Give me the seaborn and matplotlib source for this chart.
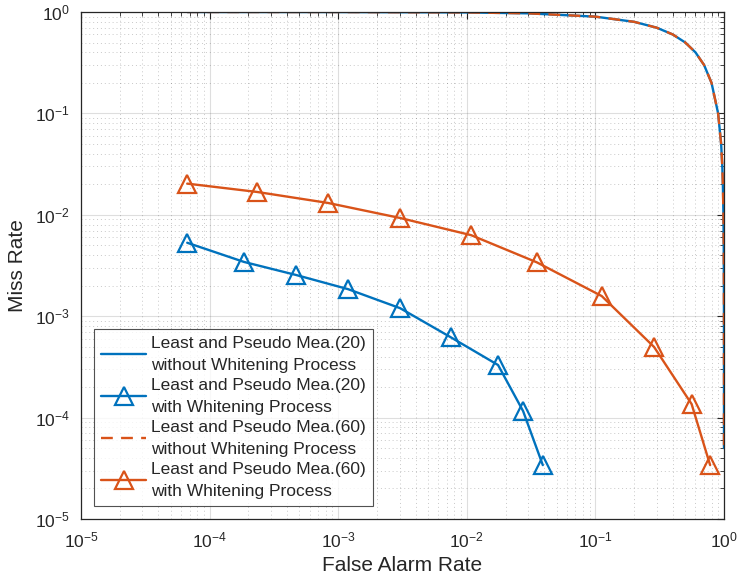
import numpy as np
import pandas as pd
import matplotlib
matplotlib.use("Agg")
import matplotlib.pyplot as plt
import seaborn as sns

# ROC-type curves (false alarm rate vs. miss rate)
fa_plain_20 = [6.7e-5, 1e-4, 1e-3, 1e-2, 3e-2, 0.1, 0.2, 0.3, 0.4, 0.5, 0.6, 0.7, 0.8,
               0.9, 0.95, 0.97, 0.98, 0.99, 0.995, 0.998, 0.999, 0.9995, 0.9998, 0.9999, 0.99995]
miss_plain_20 = [0.99993, 0.9999, 0.999, 0.99, 0.97, 0.9, 0.8, 0.7, 0.6, 0.5, 0.4, 0.3, 0.2,
                 0.1, 0.05, 0.03, 0.02, 0.01, 5e-3, 2e-3, 1e-3, 5e-4, 2e-4, 1e-4, 5e-5]

fa_white_20 = [6.7e-5, 1.85e-4, 4.7e-4, 1.19e-3, 3.03e-3, 7.5e-3, 1.75e-2, 2.74e-2, 3.9e-2]
miss_white_20 = [5.3e-3, 3.43e-3, 2.55e-3, 1.85e-3, 1.2e-3, 6.2e-4, 3.3e-4, 1.16e-4, 3.4e-5]

fa_plain_60 = [6.7e-5, 1e-4, 1e-3, 1e-2, 3e-2, 0.1, 0.2, 0.3, 0.4, 0.5, 0.6, 0.7, 0.8,
               0.9, 0.95, 0.97, 0.98, 0.99, 0.995, 0.998, 0.999, 0.9995, 0.9998, 0.9999, 0.99995]
miss_plain_60 = [0.99993, 0.9999, 0.999, 0.99, 0.97, 0.9, 0.8, 0.7, 0.6, 0.5, 0.4, 0.3, 0.2,
                 0.1, 0.05, 0.03, 0.02, 0.01, 5e-3, 2e-3, 1e-3, 5e-4, 2e-4, 1e-4, 5e-5]

fa_white_60 = [6.7e-5, 2.34e-4, 8.3e-4, 3.03e-3, 1.08e-2, 3.5e-2, 0.112, 0.286, 0.56, 0.78]
miss_white_60 = [2.03e-2, 1.68e-2, 1.31e-2, 9.3e-3, 6.3e-3, 3.4e-3, 1.58e-3, 4.97e-4, 1.36e-4, 3.4e-5]

labels = [
    "Least and Pseudo Mea.(20)\nwithout Whitening Process",
    "Least and Pseudo Mea.(20)\nwith Whitening Process",
    "Least and Pseudo Mea.(60)\nwithout Whitening Process",
    "Least and Pseudo Mea.(60)\nwith Whitening Process",
]

BLUE = "#0072BD"
ORANGE = "#D95319"
DARK = "#262626"

sns.set_style("white")
plt.rcParams["font.family"] = ["Liberation Sans", "DejaVu Sans"]
plt.rcParams["mathtext.fontset"] = "custom"
plt.rcParams["mathtext.rm"] = "Liberation Sans"
plt.rcParams["mathtext.it"] = "Liberation Sans:italic"
plt.rcParams["mathtext.bf"] = "Liberation Sans:bold"
plt.rcParams["axes.unicode_minus"] = False

fig = plt.figure(figsize=(7.39, 5.82), dpi=100)
ax = fig.add_axes([81 / 739, 1 - 519 / 582, 643 / 739, 507 / 582])
ax.set_xscale("log")
ax.set_yscale("log")

df1 = pd.DataFrame({"fa": fa_plain_20, "miss": miss_plain_20})
df2 = pd.DataFrame({"fa": fa_white_20, "miss": miss_white_20})
df3 = pd.DataFrame({"fa": fa_plain_60, "miss": miss_plain_60})
df4 = pd.DataFrame({"fa": fa_white_60, "miss": miss_white_60})

lw = 1.7
tri = dict(marker="^", markersize=12.5, markerfacecolor="none", markeredgewidth=1.6)

sns.lineplot(data=df1, x="fa", y="miss", ax=ax, color=BLUE, lw=lw, sort=False,
             estimator=None, label=labels[0])
sns.lineplot(data=df2, x="fa", y="miss", ax=ax, color=BLUE, lw=lw, sort=False,
             estimator=None, markeredgecolor=BLUE, label=labels[1], **tri)
sns.lineplot(data=df3, x="fa", y="miss", ax=ax, color=ORANGE, lw=lw, sort=False,
             estimator=None, label=labels[2])
ax.lines[-1].set_dashes([5, 3.5])
sns.lineplot(data=df4, x="fa", y="miss", ax=ax, color=ORANGE, lw=lw, sort=False,
             estimator=None, markeredgecolor=ORANGE, label=labels[3], **tri)

ax.set_xlim(1e-5, 1)
ax.set_ylim(1e-5, 1)

# grid: solid major lines, dotted minor lines
ax.grid(True, which="major", color=DARK, alpha=0.15, lw=0.8, ls="-")
ax.grid(True, which="minor", color=DARK, alpha=0.25, lw=0.7, ls=(0, (1, 3)))
ax.set_axisbelow(True)

ax.xaxis.set_major_locator(matplotlib.ticker.LogLocator(base=10, numticks=10))
ax.yaxis.set_major_locator(matplotlib.ticker.LogLocator(base=10, numticks=10))
ax.xaxis.set_minor_locator(matplotlib.ticker.LogLocator(base=10, subs=np.arange(2, 10), numticks=20))
ax.yaxis.set_minor_locator(matplotlib.ticker.LogLocator(base=10, subs=np.arange(2, 10), numticks=20))
ax.xaxis.set_minor_formatter(matplotlib.ticker.NullFormatter())
ax.yaxis.set_minor_formatter(matplotlib.ticker.NullFormatter())

ax.tick_params(which="both", direction="in", top=True, right=True, colors=DARK,
               labelsize=12.5)
ax.tick_params(which="major", length=5, width=0.8, pad=8)
ax.tick_params(which="minor", length=3, width=0.6)
for s in ax.spines.values():
    s.set_color(DARK)
    s.set_linewidth(0.9)

ax.set_xlabel("False Alarm Rate", fontsize=15, color=DARK, labelpad=4)
ax.set_ylabel("Miss Rate", fontsize=15, color=DARK, labelpad=6)

leg = ax.legend(loc="lower left", bbox_to_anchor=(0.0202, 0.0256), borderaxespad=0,
                fontsize=12.5, frameon=True, fancybox=False, handlelength=2.6,
                handletextpad=0.3, labelspacing=0.26, borderpad=0.4)
leg.get_frame().set_edgecolor(DARK)
leg.get_frame().set_linewidth(0.8)
for t in leg.get_texts():
    t.set_color(DARK)
    t.set_linespacing(1.62)

fig.savefig("out.png", dpi=100)
